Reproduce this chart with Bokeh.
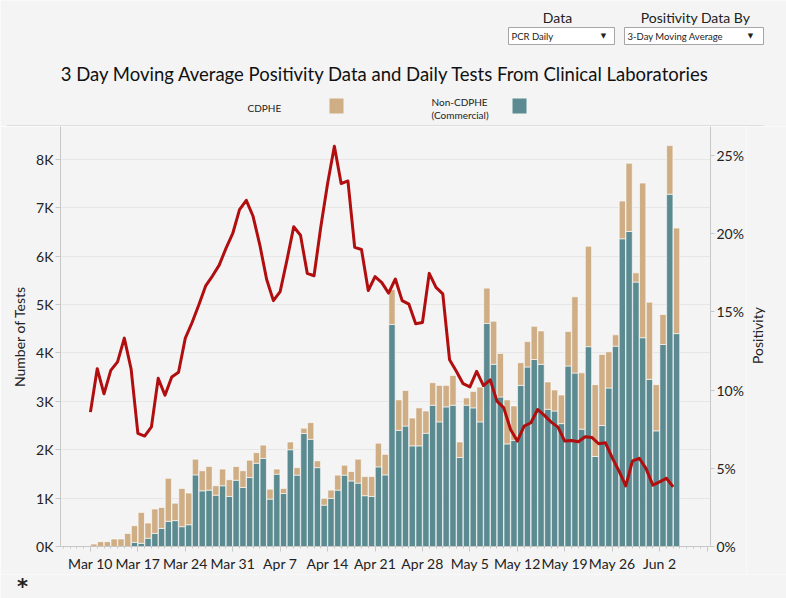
import numpy as np
import pandas as pd
from math import pi
from bokeh.plotting import figure
from bokeh.layouts import column, row
from bokeh.models import Range1d, LinearAxis, FixedTicker, ColumnDataSource
from bokeh.core.properties import value
from bokeh.embed import file_html
from bokeh.resources import INLINE

# ---------------- data ----------------
dates = pd.date_range("2020-03-10", "2020-06-04", freq="D")

non_cdphe = [0, 0, 0, 0, 0, 0, 85, 65, 170, 270,
             375, 520, 535, 410, 450, 1480, 1150, 1165, 1060, 1255,
             1035, 1370, 1220, 1425, 1720, 1820, 980, 1495, 1095, 2000,
             1475, 2335, 2215, 1630, 855, 995, 1165, 1475, 1355, 1310,
             1050, 1035, 1645, 1480, 4590, 2400, 2490, 2080, 2080, 2340,
             2920, 2575, 2885, 2920, 1840, 2920, 2865, 2575, 4610, 3765,
             3090, 2120, 2195, 3330, 3710, 3865, 3765, 2835, 2800, 2540,
             3730, 3585, 2425, 4130, 1860, 2500, 3275, 4140, 6360, 6510,
             5465, 4315, 3455, 2390, 4175, 7280, 4400]

cdphe = [50, 100, 100, 155, 155, 270, 345, 640, 315, 505,
         430, 890, 360, 790, 655, 325, 415, 490, 195, 345,
         345, 285, 345, 360, 220, 275, 205, 105, 105, 160,
         155, 110, 345, 140, 140, 170, 310, 205, 195, 495,
         395, 410, 490, 425, 720, 630, 735, 575, 785, 460,
         465, 755, 445, 615, 320, 150, 340, 720, 730, 890,
         900, 910, 710, 470, 525, 685, 690, 565, 435, 590,
         715, 1575, 1165, 2075, 1485, 1470, 750, 235, 780, 1410,
         190, 3195, 1595, 955, 620, 1005, 2180]

positivity = [8.59, 11.37, 9.76, 11.26, 11.80, 13.32, 11.35, 7.23, 7.06, 7.65,
              10.75, 9.67, 10.84, 11.14, 13.32, 14.32, 15.45, 16.66, 17.29, 17.99,
              19.06, 20.01, 21.54, 22.13, 21.11, 19.27, 17.08, 15.72, 16.30, 18.31,
              20.44, 19.90, 17.46, 17.31, 20.44, 23.20, 25.59, 23.20, 23.37, 19.12,
              18.99, 16.36, 17.25, 16.87, 16.20, 17.10, 15.72, 15.49, 14.24, 14.32,
              17.46, 16.57, 16.15, 11.94, 11.20, 10.41, 10.20, 11.20, 10.29, 10.65,
              9.29, 8.86, 7.48, 6.74, 7.70, 7.91, 8.76, 8.38, 7.95, 7.63,
              6.74, 6.78, 6.70, 7.02, 6.97, 6.57, 6.63, 5.68, 4.83, 3.87,
              5.47, 5.64, 4.98, 3.92, 4.13, 4.36, 3.81]

week_ticks = pd.date_range("2020-03-10", "2020-06-09", freq="7D")
week_labels = ["Mar 10", "Mar 17", "Mar 24", "Mar 31", "Apr 7", "Apr 14", "Apr 21",
               "Apr 28", "May 5", "May 12", "May 19", "May 26", "Jun 2", ""]
count_ticks = [0, 1000, 2000, 3000, 4000, 5000, 6000, 7000, 8000]
count_labels = ["0K", "1K", "2K", "3K", "4K", "5K", "6K", "7K", "8K"]
pos_ticks = [0, 5, 10, 15, 20, 25]
pos_labels = ["0%", "5%", "10%", "15%", "20%", "25%"]
series_names = ["CDPHE", "Non-CDPHE", "(Commercial)"]
title_text = "3 Day Moving Average Positivity Data and Daily Tests From Clinical Laboratories"

# ---------------- styling ----------------
TEAL = "#5b8b90"
TAN = "#cfad85"
RED = "#b10f0f"
BG = "#f4f4f4"
GRID = "#e6e6e6"
AXIS = "#c8c8c8"
TXT = "#222222"
FONT = "Lato"
W = 786
HH, MH, FH = 126, 448, 24
MW = 746          # main figure width; the rest holds the right axis title


def no_align(fig):
    if "frame_align" in fig.properties():
        fig.frame_align = False


def blank(width, height, yr):
    f = figure(width=width, height=height, output_backend="svg", toolbar_location=None,
               x_range=Range1d(0, width), y_range=yr,
               x_axis_location=None, y_axis_location=None, min_border=0,
               background_fill_color=BG, border_fill_color=BG)
    f.outline_line_color = None
    f.grid.visible = False
    no_align(f)
    return f


# ---------------- header (controls, title, legend) ----------------
hdr = blank(W, HH, Range1d(HH, 0))


def htext(x, y, text, size, align="left", color=TXT, font=FONT):
    hdr.text(x=[x], y=[y], text=[text], text_font=value(font), text_font_size=size,
             text_align=align, text_baseline="middle", text_color=color)


htext(557, 17, "Data", "14px", "center")
htext(695, 17, "Positivity Data By", "14px", "center")
hdr.quad(left=[508, 624], right=[614, 763], top=[27, 27], bottom=[44, 44],
         fill_color="white", line_color="#a6a6a6", line_width=1)
htext(511, 35.5, "PCR Daily", "9.5px")
htext(603, 35, "\u25bc", "7px", "center", font="DejaVu Sans")
htext(627, 35.5, "3-Day Moving Average", "9.5px")
htext(750, 35, "\u25bc", "7px", "center", font="DejaVu Sans")
htext(385, 73, title_text, "18.5px", "center", color="#111111")
htext(247, 107, series_names[0], "10px")
hdr.quad(left=[329], right=[343], top=[98], bottom=[113], fill_color=TAN, line_color=None)
htext(431, 101, series_names[1], "10px")
htext(431, 114, series_names[2], "10px")
hdr.quad(left=[512], right=[526], top=[98], bottom=[113], fill_color=TEAL, line_color=None)
hdr.line(x=[6, 763], y=[125.5, 125.5], line_color=AXIS, line_width=1)

# ---------------- main chart ----------------
origin = dates[0]
day = np.array([(d - origin).days for d in dates], dtype=float)
tick_days = [float((d - origin).days) for d in week_ticks]

src = ColumnDataSource(dict(xbar=day + 0.5, xline=day,
                            non=non_cdphe, cd=cdphe, pos=positivity))

p = figure(width=MW, height=MH, output_backend="svg", toolbar_location=None,
           x_range=Range1d(-4.42, 91.51), y_range=Range1d(0, 8680),
           min_border_left=60, min_border_right=MW - 711, min_border_top=0,
           min_border_bottom=MH - 422, background_fill_color=BG, border_fill_color=BG)
p.extra_y_ranges = {"pos": Range1d(0, 26.85)}
p.outline_line_color = None
no_align(p)

p.vbar_stack(["non", "cd"], x="xbar", width=0.93, source=src,
             fill_color=[TEAL, TAN], line_color="white", line_width=0.8,
             line_alpha=0.75)
p.line("xline", "pos", source=src, y_range_name="pos", line_color=RED,
       line_width=3, line_join="round")

p.xgrid.visible = False
p.ygrid.ticker = FixedTicker(ticks=count_ticks)
p.ygrid.grid_line_color = GRID

xa = p.xaxis[0]
xa.ticker = FixedTicker(ticks=tick_days, minor_ticks=list(range(-4, 92)))
xa.major_label_overrides = {t: lab for t, lab in zip(tick_days, week_labels)}
xa.major_label_text_font = FONT
xa.major_label_text_font_size = "14px"
xa.major_label_text_color = TXT
xa.major_label_standoff = 3
xa.axis_line_color = AXIS
xa.major_tick_line_color = AXIS
xa.minor_tick_line_color = AXIS
xa.major_tick_out = 5
xa.major_tick_in = 0
xa.minor_tick_out = 2
xa.minor_tick_in = 0

ya = p.yaxis[0]
ya.ticker = FixedTicker(ticks=count_ticks)
ya.major_label_overrides = {t: lab for t, lab in zip(count_ticks, count_labels)}
ya.major_label_text_font = FONT
ya.major_label_text_font_size = "14px"
ya.major_label_text_color = TXT
ya.major_label_standoff = 2
ya.axis_line_color = AXIS
ya.major_tick_line_color = AXIS
ya.major_tick_out = 5
ya.major_tick_in = 0
ya.minor_tick_line_color = None
ya.axis_label = "Number of Tests"
ya.axis_label_text_font = FONT
ya.axis_label_text_font_size = "14px"
ya.axis_label_text_font_style = "normal"
ya.axis_label_text_color = TXT
ya.axis_label_standoff = 5

ra = LinearAxis(y_range_name="pos", ticker=FixedTicker(ticks=pos_ticks))
ra.major_label_overrides = {t: lab for t, lab in zip(pos_ticks, pos_labels)}
ra.major_label_text_font = FONT
ra.major_label_text_font_size = "14px"
ra.major_label_text_color = TXT
ra.major_label_standoff = 2
ra.axis_line_color = AXIS
ra.major_tick_line_color = AXIS
ra.major_tick_out = 4
ra.major_tick_in = 0
ra.minor_tick_line_color = None
p.add_layout(ra, "right")

# ---------------- right strip: axis title read bottom-to-top ----------------
rs = blank(W - MW, MH, Range1d(0, MH))
rs.text(x=[757 - MW], y=[MH - (335 - HH)], text=["Positivity"], angle=pi / 2,
        text_font=value(FONT), text_font_size="14px", text_align="center",
        text_baseline="middle", text_color=TXT)

# ---------------- footer (footnote marker) ----------------
ftr = blank(W, FH, Range1d(FH, 0))
ftr.text(x=[22], y=[12], text=["*"], text_font=value("DejaVu Sans"),
         text_font_size="21px", text_font_style="bold", text_align="center",
         text_baseline="middle", text_color=TXT)

layout = column(hdr, row(p, rs, spacing=0), ftr, spacing=0)
open("out.html", "w").write(file_html(layout, INLINE))
